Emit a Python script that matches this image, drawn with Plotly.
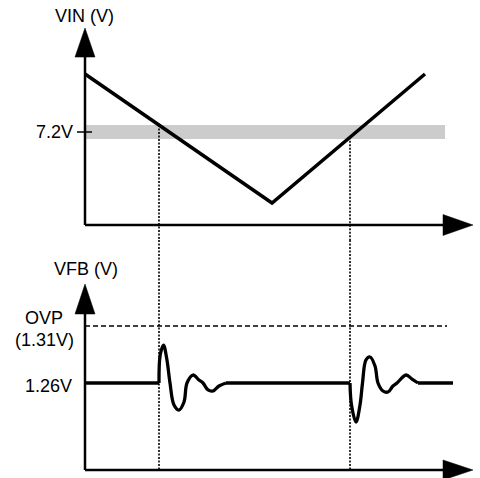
import numpy as np
import plotly.graph_objects as go

# ---------------- data ----------------
# VIN (top panel): time (arbitrary units) and volts
vin_t = [0, 187, 340]
vin_v = [11.69, 1.70, 11.69]

# threshold band around 7.2 V
vin_threshold = 7.2
band_low, band_high = 6.66, 7.74
band_t_end = 360

# event times (dotted markers)
event_t = [74, 265]

# VFB (bottom panel)
vfb_nominal = 1.26
vfb_ovp = 1.31
flat_t = [0, 74, None, 141, 265, None, 333, 368]
flat_v = [1.26, 1.26, None, 1.26, 1.26, None, 1.26, 1.26]

osc1_t = [74, 75.2, 78.5, 81.8, 85, 89, 94, 99, 102, 108, 114, 118, 123, 128, 134, 141]
osc1_v = [1.26, 1.2846, 1.2933, 1.2810, 1.26, 1.2407, 1.2363, 1.2433, 1.26,
          1.2670, 1.2626, 1.26, 1.2539, 1.2530, 1.2574, 1.26]

osc2_t = [265, 266.5, 271, 275, 277.5, 281, 285, 290, 293, 298, 303, 308, 312, 321, 327, 333]
osc2_v = [1.26, 1.2407, 1.2258, 1.2407, 1.26, 1.2802, 1.2828, 1.2749, 1.26,
          1.2530, 1.2521, 1.2574, 1.26, 1.2670, 1.2635, 1.26]

ovp_t_end = 362

# ---------------- layout constants ----------------
X_RANGE = [-85, 395]
Y1_RANGE = [-1.1613, 17.419]
Y2_RANGE = [1.17667, 1.38544]
SPLIT = 238 / 478

FONT = "Liberation Sans, Arial, sans-serif"
BLACK = "#000000"

fig = go.Figure()

fig.add_trace(go.Scatter(x=vin_t, y=vin_v, mode="lines", xaxis="x", yaxis="y",
                         line=dict(color=BLACK, width=3.5), hoverinfo="skip"))
fig.add_trace(go.Scatter(x=flat_t, y=flat_v, mode="lines", xaxis="x2", yaxis="y2",
                         line=dict(color=BLACK, width=3.5), hoverinfo="skip",
                         connectgaps=False))
for tt, vv in ((osc1_t, osc1_v), (osc2_t, osc2_v)):
    fig.add_trace(go.Scatter(x=tt, y=vv, mode="lines", xaxis="x2", yaxis="y2",
                             line=dict(color=BLACK, width=3.3, shape="spline", smoothing=1.0),
                             hoverinfo="skip"))

shapes = []
# grey band
shapes.append(dict(type="rect", xref="x", yref="y", x0=0, x1=band_t_end,
                   y0=band_low, y1=band_high, fillcolor="#cccccc",
                   line=dict(width=0), layer="below"))
# 7.2V tick
shapes.append(dict(type="line", xref="x", yref="y", x0=-8, x1=7,
                   y0=vin_threshold, y1=vin_threshold, line=dict(color=BLACK, width=1.5)))

# top axes
shapes.append(dict(type="line", xref="x", yref="y", x0=0, x1=0, y0=0, y1=13.2,
                   line=dict(color=BLACK, width=2.5)))
shapes.append(dict(type="line", xref="x", yref="y", x0=0, x1=360, y0=0, y1=0,
                   line=dict(color=BLACK, width=2.5)))
shapes.append(dict(type="path", xref="x", yref="y",
                   path="M -10,13.0 L 10,13.0 L 0,15.25 Z",
                   fillcolor=BLACK, line=dict(color=BLACK, width=0.5)))
shapes.append(dict(type="path", xref="x", yref="y",
                   path="M 358,0.81 L 358,-0.81 L 388,0 Z",
                   fillcolor=BLACK, line=dict(color=BLACK, width=0.5)))

# bottom axes
shapes.append(dict(type="line", xref="x2", yref="y2", x0=0, x1=0, y0=1.18368, y1=1.3225,
                   line=dict(color=BLACK, width=2.5)))
shapes.append(dict(type="line", xref="x2", yref="y2", x0=0, x1=360, y0=1.18368, y1=1.18368,
                   line=dict(color=BLACK, width=2.5)))
shapes.append(dict(type="path", xref="x2", yref="y2",
                   path="M -10,1.32053 L 10,1.32053 L 0,1.34684 Z",
                   fillcolor=BLACK, line=dict(color=BLACK, width=0.5)))
shapes.append(dict(type="path", xref="x2", yref="y2",
                   path="M 358,1.19245 L 358,1.17491 L 388,1.18368 Z",
                   fillcolor=BLACK, line=dict(color=BLACK, width=0.5)))

# OVP dashed line
shapes.append(dict(type="line", xref="x2", yref="y2", x0=0, x1=ovp_t_end,
                   y0=vfb_ovp, y1=vfb_ovp, line=dict(color=BLACK, width=1.3, dash="5px,3px")))

# dotted event lines
for t in event_t:
    v0 = float(np.interp(t, vin_t, vin_v))
    shapes.append(dict(type="line", xref="x", yref="y", x0=t, x1=t, y0=v0, y1=Y1_RANGE[0],
                       line=dict(color=BLACK, width=1.6, dash="2px,1.5px")))
    shapes.append(dict(type="line", xref="x2", yref="y2", x0=t, x1=t, y0=Y2_RANGE[1], y1=1.18368,
                       line=dict(color=BLACK, width=1.6, dash="2px,1.5px")))

annotations = [
    dict(text="VIN (V)", xref="x", yref="y", x=-1, y=16.2, showarrow=False,
         xanchor="center", yanchor="middle"),
    dict(text="7.2V", xref="x", yref="y", x=-10, y=vin_threshold, showarrow=False,
         xanchor="right", yanchor="middle"),
    dict(text="VFB (V)", xref="x2", yref="y2", x=0.5, y=1.26 + (383 - 269) / 1140, showarrow=False,
         xanchor="center", yanchor="middle"),
    dict(text="OVP", xref="x2", yref="y2", x=-41.5, y=1.26 + (383 - 318) / 1140, showarrow=False,
         xanchor="center", yanchor="middle"),
    dict(text="(1.31V)", xref="x2", yref="y2", x=-41, y=1.26 + (383 - 340) / 1140, showarrow=False,
         xanchor="center", yanchor="middle"),
    dict(text="1.26V", xref="x2", yref="y2", x=-11, y=vfb_nominal - 3 / 1140, showarrow=False,
         xanchor="right", yanchor="middle"),
]

hidden = dict(visible=False, showgrid=False, zeroline=False, fixedrange=True)
fig.update_layout(
    width=480, height=478,
    margin=dict(l=0, r=0, t=0, b=0),
    paper_bgcolor="white", plot_bgcolor="white",
    showlegend=False,
    font=dict(family=FONT, size=18, color=BLACK),
    xaxis=dict(domain=[0, 1], range=X_RANGE, anchor="y", **hidden),
    yaxis=dict(domain=[SPLIT, 1], range=Y1_RANGE, anchor="x", **hidden),
    xaxis2=dict(domain=[0, 1], range=X_RANGE, anchor="y2", **hidden),
    yaxis2=dict(domain=[0, SPLIT], range=Y2_RANGE, anchor="x2", **hidden),
    shapes=shapes,
    annotations=annotations,
)

fig.write_html("out.html", config=dict(displayModeBar=False),
               post_script="document.body.style.margin='0';document.body.style.overflow='hidden';")
